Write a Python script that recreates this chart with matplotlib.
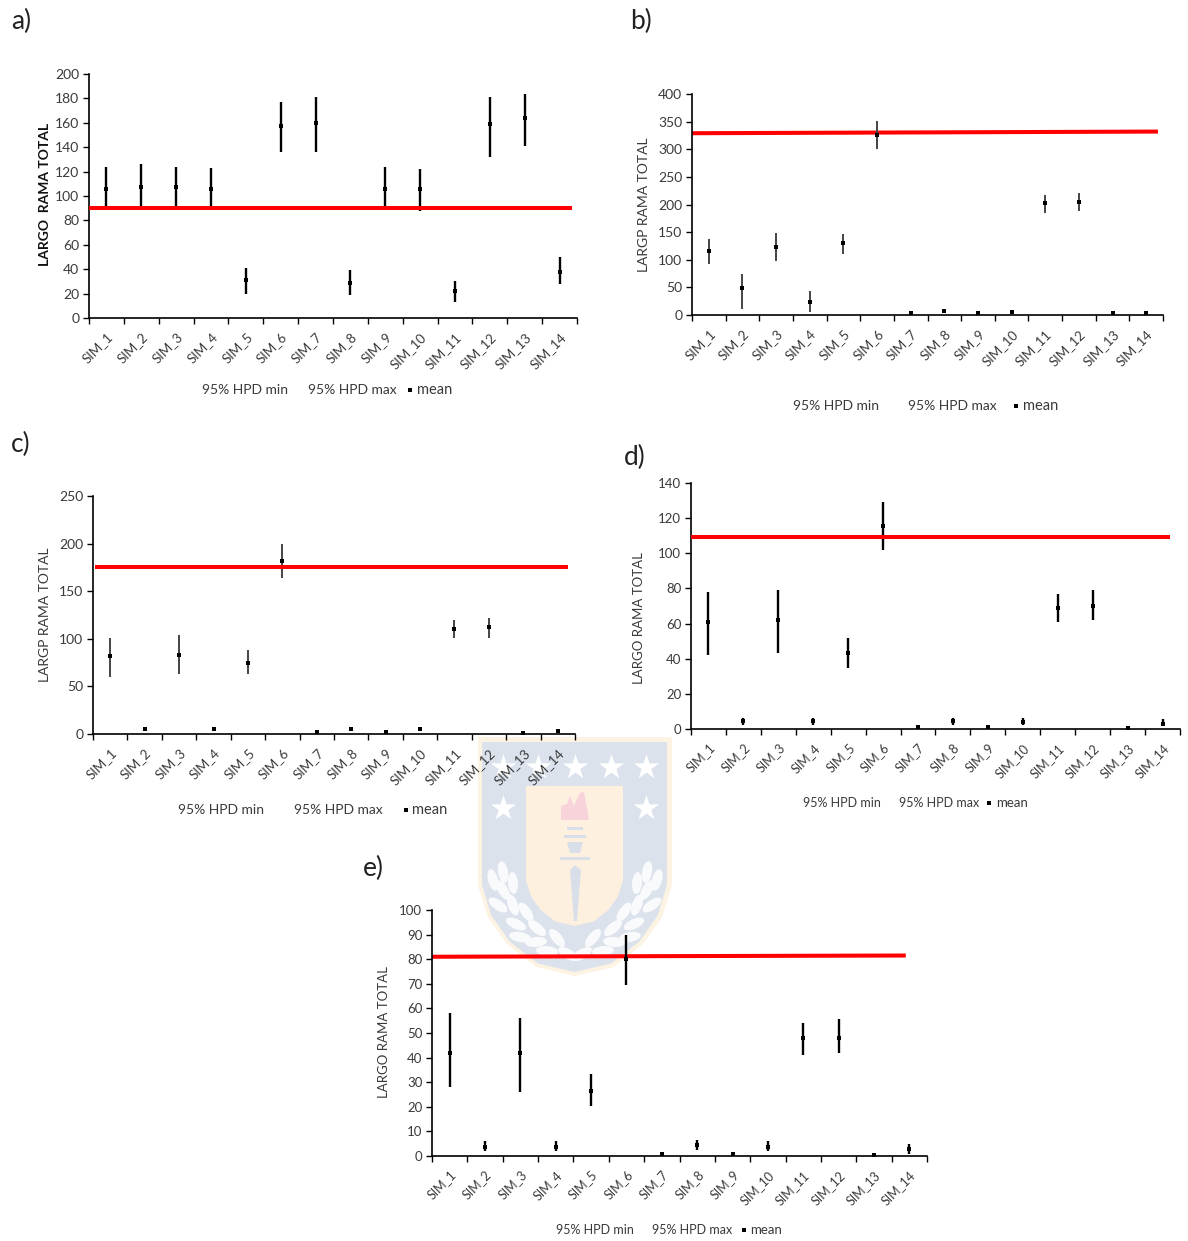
import matplotlib
matplotlib.use('Agg')
import matplotlib.pyplot as plt
from matplotlib.lines import Line2D
from matplotlib.patches import Ellipse, Polygon, Rectangle

W, H = 1188, 1241

sims = ['SIM_%d' % i for i in range(1, 15)]

a_min = [89, 90, 89, 89, 20, 136, 136, 19, 89, 88, 13, 132, 141, 28]
a_max = [124, 126, 124, 123, 41, 177, 181, 39, 124, 122, 30, 181, 184, 50]
a_mean = [106, 107, 107, 106, 31, 157, 160, 29, 106, 106, 22, 159, 164, 38]
a_ref = [90, 90]

b_min = [92, 10, 98, 5, 110, 300, 3, 6, 2, 5, 185, 189, 2, 3]
b_max = [138, 75, 149, 44, 146, 352, 5, 8, 4, 7, 218, 221, 4, 5]
b_mean = [116, 49, 123, 23, 131, 325, 4, 7, 3, 6, 203, 205, 3, 4]
b_ref = [329, 332]

c_min = [60, 4, 63, 4, 63, 164, 1.5, 4, 1.5, 4, 101, 101, 1, 2.5]
c_max = [101, 6, 104, 6, 88, 200, 2.5, 6, 2.5, 6, 120, 122, 2, 3.5]
c_mean = [82, 5, 83, 5, 75, 182, 2, 5, 2, 5, 110, 112, 1.5, 3]
c_ref = [175, 175]

d_min = [42, 2.5, 43, 2.5, 35, 102, 0.5, 2.5, 0.5, 2, 61, 62, 0.3, 1.5]
d_max = [78, 6.5, 79, 6.5, 52, 129, 1.5, 6.5, 1.5, 6.5, 77, 79, 1, 5.5]
d_mean = [61, 4.3, 62, 4.3, 43.5, 115.5, 1, 4.4, 1, 4, 69, 70, 0.6, 3]
d_ref = [109.5, 109.5]

e_min = [28, 2, 26, 2, 20.5, 69.5, 0.5, 2.5, 0.3, 2, 41, 42, 0.2, 1]
e_max = [58, 6, 56, 6, 33.5, 90, 1.5, 6.5, 1, 6, 54, 55.5, 0.7, 5]
e_mean = [42, 3.8, 42, 3.8, 26.5, 80, 1, 4.3, 0.7, 3.8, 48, 48, 0.4, 3]
e_ref = [81, 81.5]

plt.rcParams['font.family'] = ['Lato', 'DejaVu Sans']
TXT = '#3a3a3a'

fig = plt.figure(figsize=(W / 100, H / 100), dpi=100)


def fx(x):
    return x / W


def fy(y):
    return 1 - y / H


def watermark():
    bg = fig.add_axes([0, 0, 1, 1], zorder=0)
    bg.set_xlim(0, W)
    bg.set_ylim(H, 0)
    bg.axis('off')

    def shield(l, r, top, straight, bottom, col):
        cx = (l + r) / 2
        pts = [(l, top), (r, top), (r, straight),
               (r - (r - cx) * 0.1, straight + (bottom - straight) * 0.35),
               (r - (r - cx) * 0.3, straight + (bottom - straight) * 0.65),
               (r - (r - cx) * 0.6, straight + (bottom - straight) * 0.9),
               (cx, bottom),
               (l + (cx - l) * 0.6, straight + (bottom - straight) * 0.9),
               (l + (cx - l) * 0.3, straight + (bottom - straight) * 0.65),
               (l + (cx - l) * 0.1, straight + (bottom - straight) * 0.35),
               (l, straight)]
        bg.add_patch(Polygon(pts, closed=True, fc=col, ec='none'))

    shield(478, 672, 737, 885, 976, '#fdf3e2')
    shield(482, 667, 742, 885, 972, '#dbe2ec')
    shield(526, 623, 786, 880, 926, '#fdf0df')

    star_x = [503, 538, 575, 611, 646, 503, 646]
    star_y = [767, 767, 767, 767, 767, 808, 808]
    bg.scatter(star_x, star_y, marker='*', s=370, color='white', linewidths=0)

    flame = [(561, 820), (561, 806), (567, 804), (570, 796), (574, 806), (580, 793),
             (584, 792), (587, 808), (589, 820)]
    bg.add_patch(Polygon(flame, closed=True, fc='#f8d3da', ec='none'))
    torch = '#d9dfe8'
    bg.add_patch(Rectangle((567, 827), 16, 3, fc=torch, ec='none'))
    bg.add_patch(Rectangle((564, 835), 22, 3, fc=torch, ec='none'))
    bg.add_patch(Polygon([(567, 842), (583, 842), (580, 853), (570, 853)], closed=True, fc=torch, ec='none'))
    bg.add_patch(Rectangle((560, 857), 30, 3, fc=torch, ec='none'))
    bg.add_patch(Polygon([(570, 870), (575, 865), (581, 870), (577, 921), (574, 921)], closed=True,
                         fc=torch, ec='none'))

    leaves = [(493, 880, 75), (503, 872, 80), (503, 890, 60), (513, 883, 85),
              (498, 905, 35), (513, 905, 70), (526, 912, 55), (516, 924, 25),
              (537, 928, 40), (520, 937, 10), (536, 942, -5), (557, 938, 50),
              (547, 951, 5), (568, 954, 30)]
    for x, y, ang in leaves:
        bg.add_patch(Ellipse((x, y), 22, 10, angle=ang, fc='#f9fafb', ec='none'))
        bg.add_patch(Ellipse((1150 - x, y), 22, 10, angle=-ang, fc='#f9fafb', ec='none'))


def panel(letter, letter_xy, box, ymax, ystep, lo, hi, mean, ref, ref_x, ylabel, ylabel_xy,
          legend_y, legend_x, bold=False, bar_col='black', bar_lw=1.7, red_top=True, fs=9.5, leg_fs=10):
    l, r, top, bot = box
    ax = fig.add_axes([fx(l), fy(bot), (r - l) / W, (bot - top) / H], zorder=2)
    ax.patch.set_alpha(0)
    x = list(range(len(sims)))

    ax.vlines(x, lo, hi, color=bar_col, lw=bar_lw, zorder=3)
    ax.plot(x, mean, ls='none', marker='s', ms=2.5, mew=0, color='black', zorder=5)
    ax.plot(ref_x, ref, color='#ff0000', lw=2.9, zorder=4 if red_top else 2,
            clip_on=False, solid_capstyle='butt')

    ax.set_xlim(-0.5, 13.5)
    ax.set_ylim(0, ymax)
    ax.set_yticks(range(0, ymax + 1, ystep))
    ax.set_xticks([i - 0.5 for i in range(15)])
    ax.set_xticklabels([])
    ax.set_xticks(x, minor=True)
    ax.set_xticklabels(sims, minor=True, rotation=45, ha='right', rotation_mode='anchor',
                       fontsize=fs, color=TXT)
    ax.tick_params(axis='x', which='minor', length=0, pad=9)
    ax.tick_params(axis='x', which='major', length=4, width=1, color='black')
    ax.tick_params(axis='y', length=4, width=1, color='black', labelsize=fs + 0.5,
                   labelcolor=TXT, pad=3)
    for s in ['top', 'right']:
        ax.spines[s].set_visible(False)
    for s in ['left', 'bottom']:
        ax.spines[s].set_linewidth(1.2)

    fig.text(fx(letter_xy[0]), fy(letter_xy[1]), letter, fontsize=19, color='#222222',
             ha='left', va='center', zorder=3)
    fig.text(fx(ylabel_xy[0]), fy(ylabel_xy[1]), ylabel, rotation=90, ha='center', va='center',
             fontsize=fs + 0.5, color='#111111' if bold else TXT,
             fontweight='bold' if bold else 'normal', zorder=3)

    fig.text(fx(legend_x[0]), fy(legend_y), '95% HPD min', fontsize=leg_fs, color=TXT,
             ha='left', va='center', zorder=3)
    fig.text(fx(legend_x[1]), fy(legend_y), '95% HPD max', fontsize=leg_fs, color=TXT,
             ha='left', va='center', zorder=3)
    fig.add_artist(Line2D([fx(legend_x[2])], [fy(legend_y)], marker='s', ms=2.5, mew=0, color='black',
                          ls='none', transform=fig.transFigure))
    fig.text(fx(legend_x[3]), fy(legend_y), 'mean', fontsize=leg_fs + 0.5, color=TXT,
             ha='left', va='center', zorder=3)


watermark()

panel('a)', (11, 21), (89, 577, 74, 318), 200, 20, a_min, a_max, a_mean, a_ref, [-0.5, 13.35],
      'LARGO  RAMA TOTAL', (45, 194), 390, (202, 308, 410, 417), bold=True)
panel('b)', (630, 21), (692, 1163, 94, 315), 400, 50, b_min, b_max, b_mean, b_ref, [-0.5, 13.35],
      'LARGP RAMA TOTAL', (644, 205), 406, (793, 908, 1016, 1023),
      bar_col='#444444', bar_lw=1.4, red_top=False)
panel('c)', (11, 444), (93, 575, 496, 734), 250, 50, c_min, c_max, c_mean, c_ref, [-0.45, 13.3],
      'LARGP RAMA TOTAL', (45, 615), 810, (178, 294, 406, 412),
      bar_col='#444444', bar_lw=1.4)
panel('d)', (624, 457), (691, 1180, 483, 729), 140, 20, d_min, d_max, d_mean, d_ref, [-0.5, 13.2],
      'LARGO RAMA TOTAL', (639, 618), 803, (803, 899, 989, 996), fs=9, leg_fs=9)
panel('e)', (363, 868), (432, 927, 910, 1156), 100, 10, e_min, e_max, e_mean, e_ref, [-0.5, 12.9],
      'LARGO RAMA TOTAL', (384, 1032), 1230, (556, 652, 744, 750), red_top=False, fs=9, leg_fs=9)

fig.savefig('out.png', dpi=100, facecolor='white')
